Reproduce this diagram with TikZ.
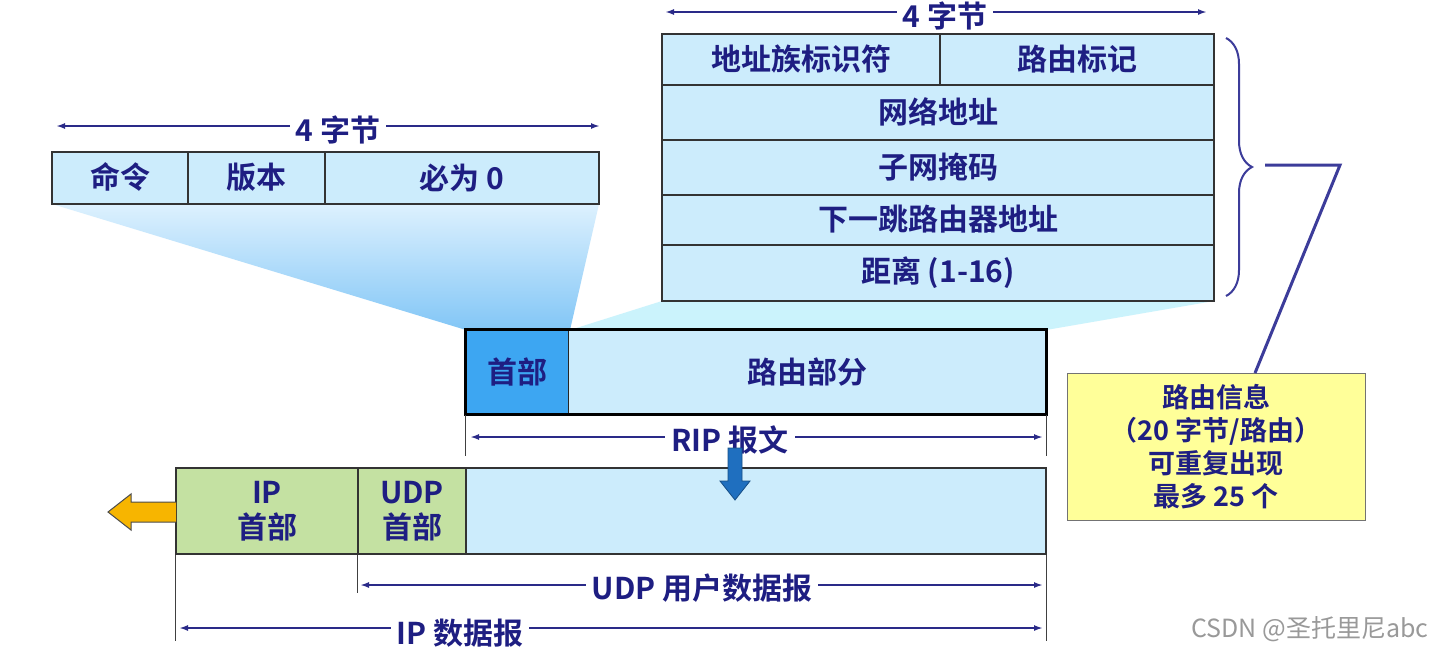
\documentclass[tikz,border=0pt]{standalone}
\usepackage{fontspec}
\setmainfont{Noto Sans CJK SC}[BoldFont={Noto Sans CJK SC Bold}]
\usetikzlibrary{arrows.meta,decorations.pathreplacing,calc}
\definecolor{navy}{HTML}{1E1E82}
\definecolor{cellblue}{HTML}{CCECFC}
\definecolor{hdrblue}{HTML}{3DA6F2}
\definecolor{cellgreen}{HTML}{C4E1A2}
\definecolor{noteyellow}{HTML}{FFFF99}
\definecolor{arrowblue}{HTML}{2A2A88}
\definecolor{bracecol}{HTML}{3C3C9A}
\definecolor{projA}{HTML}{DDF1FE}
\definecolor{projB}{HTML}{82C6F6}
\definecolor{projC}{HTML}{CBF3FC}
\definecolor{downblue}{HTML}{1F6FBF}
\definecolor{orangeA}{HTML}{F7B500}
\newcommand{\up}[1]{\raisebox{4pt}{#1}}
\begin{document}
\begin{tikzpicture}[x=1pt,y=-1pt,
  txt/.style={font=\fontsize{30}{35}\selectfont\bfseries, text=navy},
  cell/.style={txt, draw=black!80, line width=1.3pt, fill=cellblue, inner sep=0pt, align=center},
  dimarrow/.style={draw=arrowblue, line width=1.8pt, {Latex[length=9pt,width=6pt]}-{Latex[length=9pt,width=6pt]}},
  dimlabel/.style={txt, fill=white, inner xsep=6pt, inner ysep=1pt},
  tick/.style={draw=black!75, line width=1.2pt},
]
\useasboundingbox (0,0) rectangle (1434,654);
\fill[white] (0,0) rectangle (1434,654);

% projections
\shade[top color=projA, bottom color=projB] (52,204) -- (599,204) -- (570,330) -- (466,330) -- cycle;
\fill[projC] (662,301) -- (1214,301) -- (1046,330) -- (570,330) -- cycle;

% top table (route entry)
\node[cell, minimum width=278pt, minimum height=51pt] (a1) at (801,59.5) {\up{地址族标识符}};
\node[cell, minimum width=274pt, minimum height=51pt] (a2) at (1077,59.5) {\up{路由标记}};
\node[cell, minimum width=552pt, minimum height=55pt] (a3) at (938,112.5) {\up{网络地址}};
\node[cell, minimum width=552pt, minimum height=55pt] (a4) at (938,167.5) {\up{子网掩码}};
\node[cell, minimum width=552pt, minimum height=50pt] (a5) at (938,220) {\up{下一跳路由器地址}};
\node[cell, minimum width=552pt, minimum height=56pt] (a6) at (938,273) {\up{距离 (1-16)}};

% top dimension
\coordinate (t4l) at (665,12);
\coordinate (t4r) at (1207,12);
\draw[dimarrow] (t4l) -- (t4r);
\node[dimlabel] (t4) at (945,16) {4 字节};

% left table (header)
\node[cell, minimum width=136pt, minimum height=52pt] (b1) at (120,178) {\up{命令}};
\node[cell, minimum width=137pt, minimum height=52pt] (b2) at (256.5,178) {\up{版本}};
\node[cell, minimum width=274pt, minimum height=52pt] (b3) at (462,178) {必为 0};

\coordinate (l4l) at (56,126);
\coordinate (l4r) at (600,126);
\draw[dimarrow] (l4l) -- (l4r);
\node[dimlabel] (l4) at (338,130) {4 字节};

% RIP message
\node[cell, fill=hdrblue, draw=none, minimum width=102pt, minimum height=84pt] (c1) at (517,372) {首部};
\node[cell, draw=none, minimum width=478pt, minimum height=84pt] (c2) at (807,372) {路由部分};
\draw[black!85, line width=1.2pt] (c1.north east) -- (c1.south east);
\draw[black, line width=3pt] (c1.north west) rectangle (c2.south east);

\draw[tick] (c1.south west) -- ++(0,41) coordinate (rl);
\draw[tick] (c2.south east) -- ++(0,41) coordinate (rr);
\coordinate (ripl) at (470,437);
\coordinate (ripr) at (1043,437);
\draw[dimarrow] (ripl) -- (ripr);
\node[dimlabel] (rip) at (730,440) {RIP 报文};

% bottom datagram
\node[cell, fill=cellgreen, minimum width=182pt, minimum height=86pt] (d1) at (267,511) {IP\\首部};
\node[cell, fill=cellgreen, minimum width=108pt, minimum height=86pt] (d2) at (412,511) {UDP\\首部};
\node[cell, minimum width=580pt, minimum height=86pt] (d3) at (756,511) {};

\draw[tick] (d1.south west) -- ++(0,86);
\draw[tick] (d2.south west) -- ++(0,38);
\draw[tick] (d3.south east) -- ++(0,86);

\coordinate (udpl) at (360,585);
\coordinate (udpr) at (1043,585);
\draw[dimarrow] (udpl) -- (udpr);
\node[dimlabel] (udp) at (702,588) {UDP 用户数据报};

\coordinate (ipl) at (179,628);
\coordinate (ipr) at (1043,628);
\draw[dimarrow] (ipl) -- (ipr);
\node[dimlabel] (ip) at (460,633) {IP 数据报};

% down arrow
\filldraw[fill=downblue, draw=downblue!70!black, line width=0.8pt]
  (728,448) -- (742,448) -- (742,481) -- (750,481) -- (735,500) -- (720,481) -- (728,481) -- cycle;

% orange arrow
\filldraw[fill=orangeA, draw=black!70, line width=1pt]
  (176,502) -- (131,502) -- (131,494) -- (108,512) -- (131,530) -- (131,522) -- (176,522);

% note
\node[txt, font=\fontsize{27}{33}\selectfont\bfseries, draw=black!55, line width=1pt, fill=noteyellow,
      minimum width=298pt, minimum height=147pt, align=center, inner sep=0pt] (note) at (1216,446.5)
      {路由信息\\（20 字节/路由）\\可重复出现\\最多 25 个};

% brace and leader
\draw[bracecol, line width=2pt, decorate, decoration={brace, amplitude=26pt}] (1226,38) -- (1226,296);
\coordinate (bt) at (1265,165);
\coordinate (bk) at (1340,165);
\coordinate (nk) at (1255,373);
\draw[bracecol, line width=3pt, line join=miter] (bt) -- (bk) -- (nk);

% watermark
\node[anchor=east, font=\fontsize{25}{28}\selectfont, text=black!40] (wm) at (1432,629) {CSDN @圣托里尼abc};
\end{tikzpicture}
\end{document}
